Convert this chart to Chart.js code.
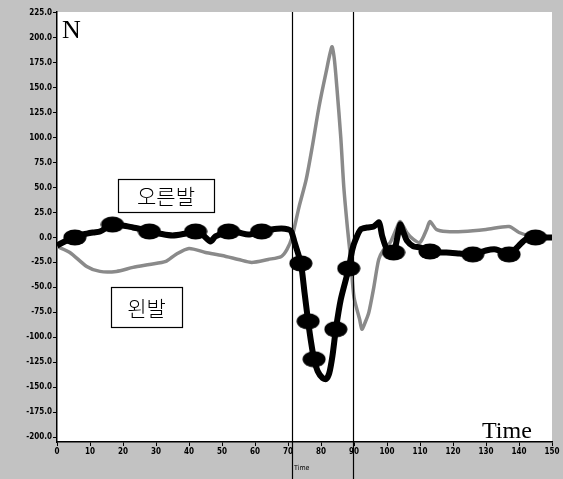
<!DOCTYPE html>
<html>
<head>
<meta charset="utf-8">
<script src="https://cdn.jsdelivr.net/npm/chart.js@4"></script>
<style>
    html, body { margin: 0; padding: 0; background: #c2c2c2; }
    #wrap { width: 563px; height: 479px; position: relative; }
</style>
</head>
<body>
<div id="wrap"><canvas id="chart" width="563" height="479"></canvas></div>
<script>
    // ==========================================
    // DATA
    // ==========================================
    const xTicks = [0, 10, 20, 30, 40, 50, 60, 70, 80, 90, 100, 110, 120, 130, 140, 150];
    const yTicks = [225, 200, 175, 150, 125, 100, 75, 50, 25, 0, -25, -50, -75, -100, -125, -150, -175, -200];
    const phaseLines = [71.2, 89.6];

    // 오른발 (right foot) - black
    const rightTime = [0, 3, 5.4, 8, 11, 13, 16.8, 20, 23, 26, 28, 31, 35, 39, 42, 44, 46.5, 48, 52, 55, 58, 62, 65, 68, 70,
        71, 72, 73.9, 75, 76.1, 77, 77.9, 79, 80.5, 81.5, 82.5, 83.5, 84.5, 86, 88.4, 89.5, 90.5, 92, 94, 96, 97.6, 98.5,
        100, 102, 103, 104, 105, 106, 108, 110, 113, 116, 118, 122, 126, 130, 133, 137, 140, 142, 145, 150];
    const rightForce = [-8, -3, 0, 3, 5, 6, 13, 12, 10, 8, 6, 4, 2, 4, 6, 3, -4, 1, 6, 5, 3, 6, 8, 9, 8,
        6, -5, -26, -55, -84, -105, -122, -134, -141, -142, -136, -118, -92, -62, -31, -12, -2, 8, 10, 11, 15, 2,
        -12, -15, -2, 13, 5, -3, -9, -10, -14, -15, -15, -16, -17, -13, -12, -17, -8, -2, 0, 0];

    // 왼발 (left foot) - grey
    const leftTime = [0, 3.9, 9, 13, 18, 23, 28, 33, 36, 40, 45, 50, 55, 59, 64, 68, 69.7, 71.2, 73.3, 75.5, 77.3, 79.4,
        81.5, 83.3, 84, 84.8, 86, 86.9, 88, 89, 90, 91.7, 92.4, 93.4, 94.5, 96, 97.5, 99, 101, 103, 104, 106, 108, 110,
        112, 113, 115, 118, 123, 130, 137, 140, 144, 150];
    const leftForce = [-9, -15, -29, -34, -34, -30, -27, -24, -17, -11, -15, -18, -22, -25, -22, -19, -12, 0, 30, 58, 90, 131,
        165, 191, 180, 151, 100, 51, 10, -22, -60, -82, -92, -85, -75, -50, -22, -12, -5, 10, 16, 5, -2, -5,
        8, 16, 8, 6, 6, 8, 11, 5, 1, 0];

    // big round markers on the right-foot curve
    const markerTime = [5.4, 16.8, 28, 42, 52, 62, 73.9, 76.1, 77.9, 84.5, 88.4, 102, 113, 126, 137, 145];
    const markerForce = [0, 13, 6, 6, 6, 6, -26, -84, -122, -92, -31, -15, -14, -17, -17, 0];

    const toPoints = (xs, ys) => xs.map((x, i) => ({ x: x, y: ys[i] }));

    // ellipse marker as a point style image
    const makeBlob = function() {
        const c = document.createElement('canvas');
        c.width = 24; c.height = 17;
        const g = c.getContext('2d');
        g.fillStyle = '#000';
        g.beginPath();
        g.ellipse(12, 8.5, 11.5, 8, 0, 0, Math.PI * 2);
        g.fill();
        return c;
    };

    // ==========================================
    // DECORATION PLUGIN
    // ==========================================
    const scanDecor = {
        id: 'scanDecor',
        beforeDraw: function(chart) {
            const ctx = chart.ctx, a = chart.chartArea;
            ctx.save();
            ctx.fillStyle = '#c2c2c2';
            ctx.fillRect(0, 0, chart.width, chart.height);
            ctx.fillStyle = '#ffffff';
            ctx.fillRect(a.left, a.top, a.right - a.left, a.bottom - a.top);
            ctx.restore();
        },
        afterDatasetsDraw: function(chart) {
            const ctx = chart.ctx, a = chart.chartArea, xs = chart.scales.x;
            ctx.save();
            // phase lines
            ctx.strokeStyle = '#000';
            ctx.lineWidth = 1.2;
            phaseLines.forEach(function(t) {
                const px = Math.round(xs.getPixelForValue(t)) + 0.5;
                ctx.beginPath();
                ctx.moveTo(px, a.top);
                ctx.lineTo(px, chart.height);
                ctx.stroke();
            });

            // label boxes
            const box = function(x, y, w, h, txt) {
                ctx.fillStyle = '#fff';
                ctx.fillRect(x, y, w, h);
                ctx.strokeStyle = '#000';
                ctx.lineWidth = 1.2;
                ctx.strokeRect(x + 0.5, y + 0.5, w, h);
                ctx.fillStyle = '#000';
                ctx.font = '300 21px "Noto Sans CJK KR"';
                ctx.textAlign = 'center';
                ctx.textBaseline = 'middle';
                ctx.fillText(txt, x + w / 2, y + h / 2 + 1);
            };
            box(118, 179, 96, 33, '오른발');
            box(111, 287, 71, 40, '왼발');

            ctx.fillStyle = '#000';
            ctx.textAlign = 'left';
            ctx.textBaseline = 'alphabetic';
            ctx.font = '26px "Liberation Serif"';
            ctx.fillText('N', 62, 38);
            ctx.font = '24px "Liberation Serif"';
            ctx.fillText('Time', 482, 438);
            ctx.font = '7px "DejaVu Sans Condensed"';
            ctx.fillText('Time', 294, 470);
            ctx.restore();
        }
    };

    // ==========================================
    // CHART
    // ==========================================
    const tickFont = { family: '"DejaVu Sans Condensed", "DejaVu Sans"', size: 8, weight: 'bold' };

    new Chart(document.getElementById('chart'), {
        type: 'line',
        data: {
            datasets: [
                {
                    label: '오른발 markers',
                    data: toPoints(markerTime, markerForce),
                    showLine: false,
                    pointStyle: makeBlob(),
                    pointRadius: 10,
                    order: 0
                },
                {
                    label: '오른발',
                    data: toPoints(rightTime, rightForce),
                    borderColor: '#000',
                    borderWidth: 6,
                    pointRadius: 0,
                    tension: 0.25,
                    order: 1
                },
                {
                    label: '왼발',
                    data: toPoints(leftTime, leftForce),
                    borderColor: '#8a8a8a',
                    borderWidth: 3.5,
                    pointRadius: 0,
                    tension: 0.25,
                    order: 2
                }
            ]
        },
        options: {
            responsive: false,
            animation: false,
            layout: { padding: { top: 12, right: 9, left: 0, bottom: 0 } },
            plugins: { legend: { display: false }, tooltip: { enabled: false } },
            scales: {
                x: {
                    type: 'linear',
                    min: 0, max: 150,
                    afterBuildTicks: function(s) { s.ticks = xTicks.map(v => ({ value: v })); },
                    afterFit: function(s) { s.height = 37; },
                    grid: { drawOnChartArea: false, drawTicks: true, tickLength: 4, color: '#000' },
                    border: { display: true, color: '#000', width: 1.5 },
                    ticks: { color: '#000', font: tickFont, padding: 1, maxRotation: 0, autoSkip: false }
                },
                y: {
                    type: 'linear',
                    min: -205, max: 226,
                    afterBuildTicks: function(s) { s.ticks = yTicks.map(v => ({ value: v })); },
                    afterFit: function(s) { s.width = 57; },
                    grid: { drawOnChartArea: false, drawTicks: true, tickLength: 4, color: '#000' },
                    border: { display: true, color: '#000', width: 1.5 },
                    ticks: {
                        color: '#000', font: tickFont, padding: 1, autoSkip: false,
                        callback: function(v) { return Number(v).toFixed(1); }
                    }
                }
            }
        },
        plugins: [scanDecor]
    });
</script>
</body>
</html>
